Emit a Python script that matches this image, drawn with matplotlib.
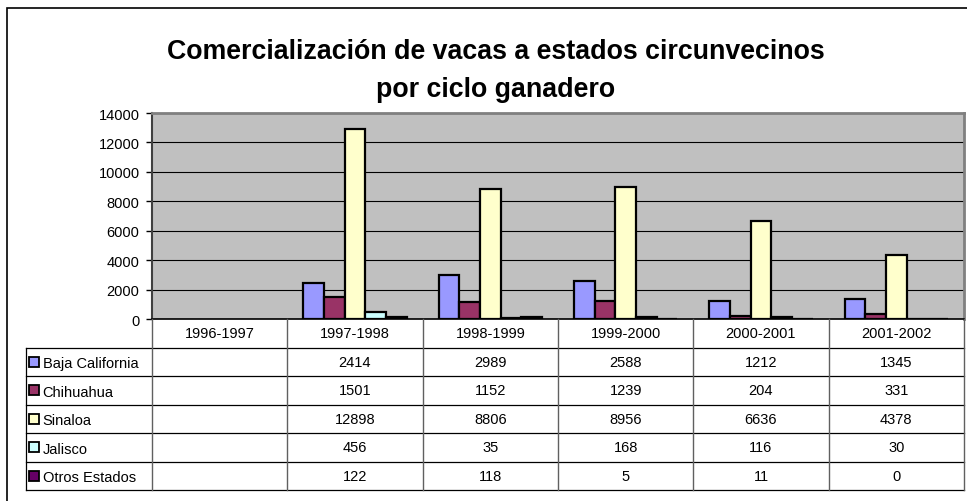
import numpy as np
import matplotlib
matplotlib.use("Agg")
import matplotlib.pyplot as plt
from matplotlib.patches import Rectangle

plt.rcParams['font.family'] = ['Liberation Sans', 'DejaVu Sans']

# datos
ciclos = ['1996-1997', '1997-1998', '1998-1999', '1999-2000', '2000-2001', '2001-2002']
estados = ['Baja California', 'Chihuahua', 'Sinaloa', 'Jalisco', 'Otros Estados']
baja_california = [np.nan, 2414, 2989, 2588, 1212, 1345]
chihuahua = [np.nan, 1501, 1152, 1239, 204, 331]
sinaloa = [np.nan, 12898, 8806, 8956, 6636, 4378]
jalisco = [np.nan, 456, 35, 168, 116, 30]
otros_estados = [np.nan, 122, 118, 5, 11, 0]
series = [baja_california, chihuahua, sinaloa, jalisco, otros_estados]
colores = ['#9999FF', '#993366', '#FFFFCC', '#CCFFFF', '#660066']
yticks = np.arange(0, 14001, 2000)

W, H = 967, 502
fig = plt.figure(figsize=(W / 100, H / 100), dpi=100)

# marco exterior
fig.add_artist(Rectangle((6.5 / W, -0.1), 2, 1 - 8.5 / H + 0.1, transform=fig.transFigure,
                         fill=False, edgecolor='black', lw=1.2))

fig.text(496 / W, 1 - 71 / H, 'Comercialización de vacas a estados circunvecinos\npor ciclo ganadero',
         ha='center', va='center', fontsize=19.3, fontweight='bold', linespacing=1.58)

# area del grafico
px_left, px_right, px_top, px_bottom = 152, 964, 114, 320
ax = fig.add_axes([px_left / W, 1 - px_bottom / H, (px_right - px_left) / W, (px_bottom - px_top) / H])
ax.set_facecolor('#C0C0C0')
x = np.arange(len(ciclos))
bw = 0.153
for j, (vals, c) in enumerate(zip(series, colores)):
    ax.bar(x + (j - 2) * bw, vals, bw, color=c, edgecolor='black', lw=1.6, zorder=3)
ax.set_xlim(-0.5, len(ciclos) - 0.5)
ax.set_ylim(0, 14000)
ax.set_yticks(yticks)
ax.set_xticks([])
ax.tick_params(axis='y', direction='out', length=4, width=1, labelsize=10.5, pad=5)
ax.yaxis.grid(True, color='black', lw=0.8, zorder=1)
ax.set_axisbelow(True)
for s in ['top', 'right']:
    ax.spines[s].set_color('#808080')
    ax.spines[s].set_linewidth(2)
ax.spines['left'].set_color('#404040')
ax.spines['left'].set_linewidth(1.5)
ax.spines['bottom'].set_linewidth(1.2)

# tabla de datos
col_px = (px_right - px_left) / len(ciclos)
x0 = -0.5 - (px_left - 26) / col_px
tax = fig.add_axes([26 / W, 1 - 491 / H, (px_right - 26) / W, (491 - px_bottom) / H])
tax.set_xlim(x0, len(ciclos) - 0.5)
tax.set_ylim(len(estados) + 1, 0)
tax.axis('off')
for r in range(1, len(estados) + 2):
    tax.plot([x0, len(ciclos) - 0.5], [r, r], color='black', lw=0.9, clip_on=False)
tax.plot([x0, x0], [1, len(estados) + 1], color='black', lw=0.9, clip_on=False)
for k in range(len(ciclos) + 1):
    tax.plot([k - 0.5, k - 0.5], [0, len(estados) + 1], color='#606060', lw=1.0, clip_on=False)
for i, c in enumerate(ciclos):
    tax.text(i, 0.5, c, ha='center', va='center', fontsize=10.5)
key_x = x0 + 8 / col_px
lab_x = x0 + 16.7 / col_px
for r, (nombre, vals, c) in enumerate(zip(estados, series, colores)):
    yy = r + 1.5
    tax.plot(key_x, yy, marker='s', ms=6.5, mfc=c, mec='black', mew=1.3, clip_on=False)
    tax.text(lab_x, yy + 0.05, nombre, ha='left', va='center', fontsize=10.5)
    for i, v in enumerate(vals):
        if not np.isnan(v):
            tax.text(i, yy, f'{int(v)}', ha='center', va='center', fontsize=10.5)

fig.savefig('out.png', dpi=100)
